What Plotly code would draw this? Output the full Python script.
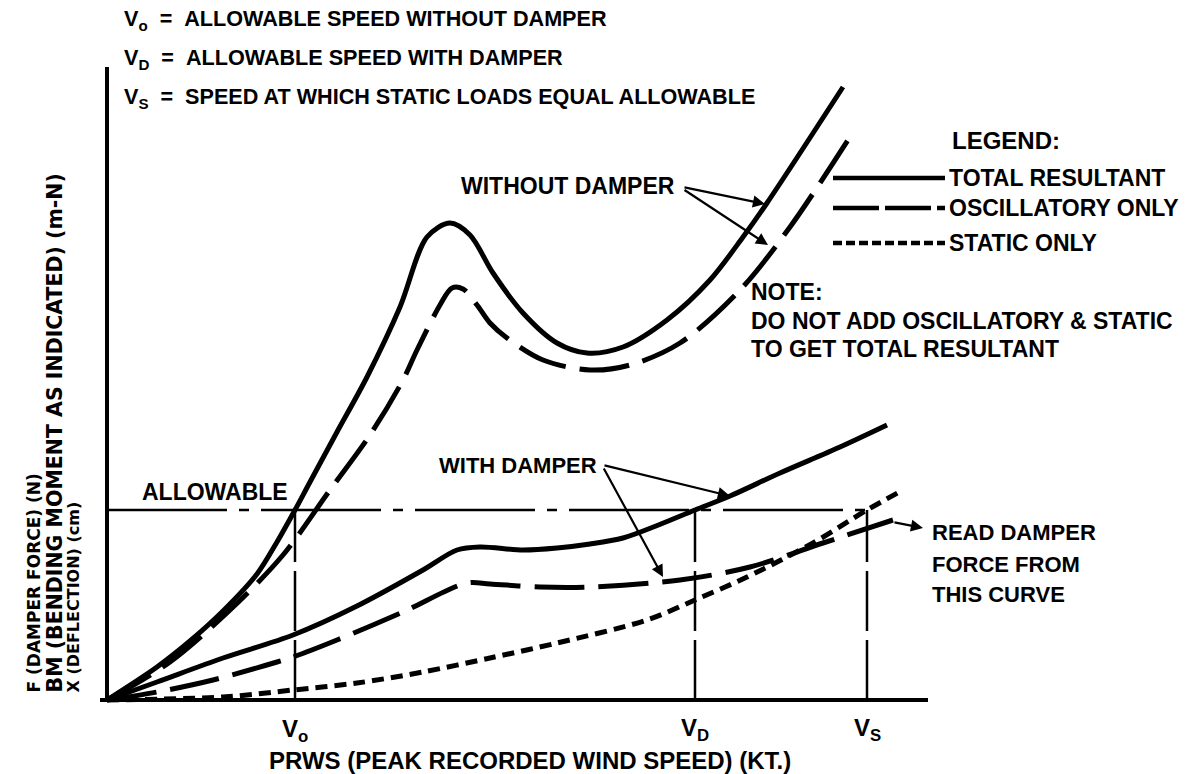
import plotly.graph_objects as go

# ---- data (arbitrary schematic units: speed, load) ----
speed_total_wo = [0, 5.0, 8.3, 11.6, 15.0, 17.0, 18.8, 20.3, 23.0, 26.0, 29.3, 32.0, 34.3, 36.3, 38.6, 41.6, 45.0, 48.0, 51.6, 56.0, 60.3, 63.6, 66.0, 73.6]
load_total_wo = [0, 3.3, 5.9, 8.9, 12.6, 15.8, 19.0, 21.8, 26.8, 32.3, 39.3, 46.3, 47.7, 46.5, 42.7, 38.7, 35.7, 34.7, 35.3, 38.0, 42.0, 46.3, 49.7, 61.3]

speed_osc_wo = [0, 6.3, 12.3, 17.6, 22.3, 26.3, 29.6, 31.0, 33.3, 34.5, 35.6, 37.0, 38.3, 40.0, 43.6, 48.3, 52.3, 57.3, 63.3, 68.3, 74.1]
load_osc_wo = [0, 3.8, 9.0, 14.5, 21.0, 26.5, 32.0, 35.0, 39.5, 41.2, 41.1, 39.5, 37.7, 36.2, 34.0, 33.0, 33.5, 35.7, 41.0, 47.3, 56.0]

speed_total_w = [0, 5.0, 11.6, 18.6, 25.0, 31.6, 35.0, 37.3, 41.6, 45.0, 48.3, 51.6, 54.9, 58.8, 62.3, 67.3, 73.3, 78.0]
load_total_w = [0, 1.8, 4.2, 6.5, 9.4, 13.0, 15.0, 15.3, 15.0, 15.2, 15.6, 16.2, 17.4, 19.0, 20.4, 22.7, 25.3, 27.5]

speed_osc_w = [0, 5.0, 10.6, 17.0, 18.6, 23.0, 29.6, 36.0, 38.3, 43.3, 48.3, 57.3, 64.3, 71.6, 78.6]
load_osc_w = [0, 0.8, 2.0, 3.8, 4.3, 6.0, 8.8, 11.7, 11.6, 11.3, 11.3, 12.0, 13.3, 15.7, 18.0]

speed_static = [0, 11.6, 18.6, 25.0, 31.6, 38.3, 45.0, 54.0, 58.8, 64.0, 70.6, 76.0, 79.6]
load_static = [0, 0.3, 1.0, 1.7, 2.8, 4.2, 5.7, 8.0, 10.0, 12.3, 15.7, 19.0, 21.0]

allowable = 19.0
v_o, v_d, v_s = 18.8, 58.8, 76.0
x_axis_end = 82.1
y_axis_end = 63.3

legend_labels = ["TOTAL RESULTANT", "OSCILLATORY ONLY", "STATIC ONLY"]

FONT = "Liberation Sans, Arial, sans-serif"
DV = "DejaVu Sans, sans-serif"
BLACK = "#000000"
SOLID = "solid"
LONG = "50px,14px"
SHORT = "12px,7px"

fig = go.Figure()

def curve(x, y, dash):
    fig.add_trace(go.Scatter(x=x, y=y, mode="lines",
                             line=dict(color=BLACK, width=5, dash=dash,
                                       shape="spline", smoothing=0.9),
                             hoverinfo="skip", showlegend=False))

curve(speed_total_wo, load_total_wo, SOLID)
curve(speed_osc_wo, load_osc_wo, LONG)
curve(speed_total_w, load_total_w, SOLID)
curve(speed_osc_w, load_osc_w, LONG)
curve(speed_static, load_static, SHORT)

# axes
fig.add_shape(type="line", x0=-0.7, x1=x_axis_end, y0=0, y1=0,
              line=dict(color=BLACK, width=4))
fig.add_shape(type="line", x0=0, x1=0, y0=0, y1=y_axis_end,
              line=dict(color=BLACK, width=4))

# allowable line and speed verticals
fig.add_shape(type="line", x0=0, x1=v_s, y0=allowable, y1=allowable,
              line=dict(color=BLACK, width=2.5, dash="120px,12px,10px,12px"))
for v in (v_o, v_d, v_s):
    fig.add_shape(type="line", x0=v, x1=v, y0=0, y1=allowable,
                  line=dict(color=BLACK, width=2.5, dash="60px,9px"))

# legend samples
leg_x0, leg_x1 = 72.6, 83.8
leg_y = [52.2, 49.2, 45.7]
for yy, d in zip(leg_y, [SOLID, "46px,6px", "9px,4px"]):
    fig.add_shape(type="line", x0=leg_x0, x1=leg_x1, y0=yy, y1=yy,
                  line=dict(color=BLACK, width=4.5, dash=d))

ann = []

def txt(x, y, text, size, xanchor="left", yanchor="middle", angle=0, family=FONT):
    ann.append(dict(x=x, y=y, xref="x", yref="y", text="<b>" + text + "</b>",
                    showarrow=False, xanchor=xanchor, yanchor=yanchor,
                    textangle=angle, font=dict(family=family, size=size, color=BLACK)))

def arrow(x_tail, y_tail, x_head, y_head):
    ann.append(dict(x=x_head, y=y_head, ax=x_tail, ay=y_tail, xref="x", yref="y",
                    axref="x", ayref="y", text="", showarrow=True, arrowhead=2,
                    arrowsize=1.1, arrowwidth=2.2, arrowcolor=BLACK))

nb = "\u00a0"
txt(1.5, 68.0, "V<sub>o</sub>" + nb * 2 + "=" + nb * 2 + "ALLOWABLE SPEED WITHOUT DAMPER", 21.6)
txt(1.5, 64.1, "V<sub>D</sub>" + nb * 2 + "=" + nb * 2 + "ALLOWABLE SPEED WITH DAMPER", 21.6)
txt(1.5, 60.2, "V<sub>S</sub>" + nb * 2 + "=" + nb * 2 + "SPEED AT WHICH STATIC LOADS EQUAL ALLOWABLE", 21.6)

txt(84.3, 56.0, "LEGEND:", 24)
for yy, lab in zip(leg_y, legend_labels):
    txt(84.0, yy, lab, 23)

txt(64.2, 40.8, "NOTE:", 23)
txt(64.2, 37.9, "DO NOT ADD OSCILLATORY &amp; STATIC", 23)
txt(64.2, 35.1, "TO GET TOTAL RESULTANT", 23)

txt(57.0, 51.4, "WITHOUT DAMPER", 23, xanchor="right")
txt(49.2, 23.5, "WITH DAMPER", 22, xanchor="right")
txt(3.3, 20.8, "ALLOWABLE", 23)

txt(82.3, 16.8, "READ DAMPER", 22)
txt(82.3, 13.6, "FORCE FROM", 22)
txt(82.3, 10.6, "THIS CURVE", 22)

txt(v_o, -3.0, "V<sub>o</sub>", 24, xanchor="center")
txt(v_d, -2.9, "V<sub>D</sub>", 24, xanchor="center")
txt(v_s, -2.9, "V<sub>S</sub>", 24, xanchor="center")
txt(42.3, -6.0, "PRWS (PEAK RECORDED WIND SPEED) (KT.)", 24, xanchor="center")

txt(-7.4, 0.5, "F (DAMPER FORCE) (N)", 17, yanchor="bottom", angle=-90, xanchor="center", family=DV)
txt(-5.3, 0.5, "BM (BENDING MOMENT AS INDICATED) (m-N)", 20.5, yanchor="bottom", angle=-90,
    xanchor="center", family=DV)
txt(-3.4, 0.5, "X (DEFLECTION) (cm)", 16, yanchor="bottom", angle=-90, xanchor="center", family=DV)

arrow(57.6, 51.3, 65.8, 49.6)
arrow(57.6, 51.1, 66.1, 45.5)
arrow(49.6, 23.5, 62.3, 20.4)
arrow(49.6, 23.3, 55.6, 12.3)
arrow(78.6, 17.8, 81.6, 17.2)

fig.update_layout(
    width=1199, height=774, autosize=False,
    margin=dict(l=0, r=0, t=0, b=0),
    paper_bgcolor="white", plot_bgcolor="white",
    xaxis=dict(range=[-10.7, 109.2], visible=False, fixedrange=True),
    yaxis=dict(range=[-7.4, 70.0], visible=False, fixedrange=True),
    annotations=ann, showlegend=False,
)

fig.write_html("out.html", config={"displayModeBar": False},
               post_script="document.body.style.margin='0px';document.body.style.padding='0px';")
